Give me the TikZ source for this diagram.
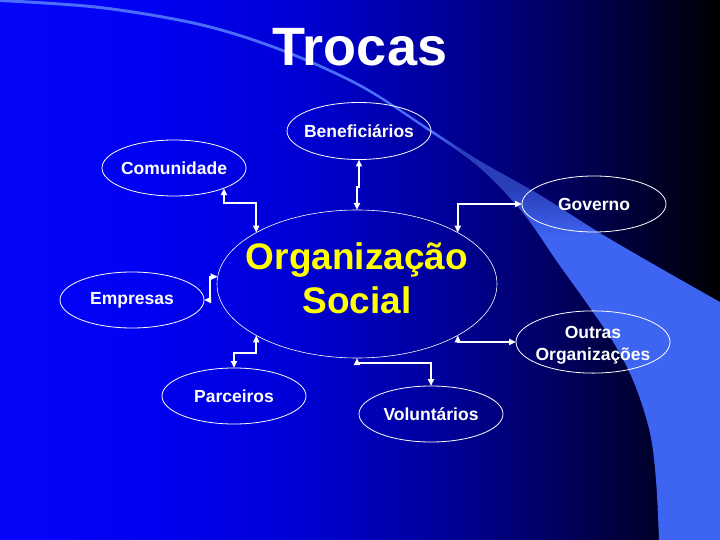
\documentclass[tikz,border=0pt]{standalone}
\usepackage{fontspec}
\setmainfont{Liberation Sans}
\usetikzlibrary{shapes.geometric,arrows.meta}
\definecolor{bgA}{RGB}{5,5,250}
\definecolor{bgB}{RGB}{0,0,242}
\definecolor{bgC}{RGB}{0,0,212}
\definecolor{bgD}{RGB}{0,0,150}
\definecolor{bgE}{RGB}{0,0,95}
\definecolor{bgF}{RGB}{0,0,45}
\definecolor{bgG}{RGB}{0,0,0}
\definecolor{bandC}{RGB}{62,100,242}
\definecolor{bandD}{RGB}{42,62,185}
\definecolor{lineC}{RGB}{75,110,250}
\definecolor{orgyellow}{RGB}{255,255,0}
\pgfdeclarehorizontalshading{bgshade}{100bp}{color(0bp)=(bgA); color(25bp)=(bgA); color(35.4bp)=(bgB); color(45.8bp)=(bgC); color(56.25bp)=(bgD); color(63.9bp)=(bgE); color(70.1bp)=(bgF); color(75bp)=(bgG); color(100bp)=(bgG)}
\pgfdeclareverticalshading{bandshade}{100bp}{color(0bp)=(bandC); color(53bp)=(bandC); color(57.5bp)=(bandD); color(61bp)=(bandD); color(62.8bp)=(lineC); color(100bp)=(lineC)}
\newcommand{\zwbox}[1]{\makebox[0pt]{#1}}
\tikzset{
  ell/.style={ellipse, draw=white, line width=0.8pt, minimum width=144pt, minimum height=56pt,
    inner sep=0pt, outer sep=0pt, text=white, font=\fontsize{17.5}{22}\selectfont\bfseries, align=center},
  orgell/.style={ellipse, draw=white, line width=0.6pt, minimum width=280pt, minimum height=148pt,
    inner sep=0pt, outer sep=0pt, text=orgyellow, font=\fontsize{37}{44}\selectfont\bfseries, align=center},
  titlefont/.style={inner sep=0pt, text=white, font=\fontsize{54}{60}\selectfont\bfseries},
  conn/.style={draw=white, line width=2pt, >={Triangle[length=7pt,width=6pt]}, <->}
}
\begin{document}
\begin{tikzpicture}[x=1pt,y=-1pt]
\useasboundingbox (0,0) rectangle (720,540);
\shade[shading=bgshade] (0,0) rectangle (720,540);
\shade[shading=bandshade] plot[smooth,tension=0.55] coordinates {(0,2) (100,9) (200,26) (280,51) (360,87) (430,132) (480,168) (523,213) (558,263) (588,305) (615,345) (635,385) (650,433) (656,480) (659,540)} -- (720,540) -- (720,302) -- plot[smooth,tension=0.55] coordinates {(720,302) (660,268) (600,233) (540,195) (480,161) (430,129) (360,84) (280,48) (200,23) (100,6) (0,-1)} -- cycle;

\node[titlefont] (title) at (360,47) {Trocas};

\node[orgell] (org) at (357,284) {\rule{0pt}{36pt}\zwbox{Organização}\\\rule[-22pt]{0pt}{22pt}\zwbox{Social}};
\node[ell, minimum height=57pt] (ben) at (359,131) {\zwbox{Beneficiários}};
\node[ell] (com) at (174,168) {\zwbox{Comunidade}};
\node[ell] (gov) at (594,204) {\zwbox{Governo}};
\node[ell] (emp) at (132,300) {\zwbox{Empresas}};
\node[ell, minimum width=154pt] (out) at (593,342) {\rule{0pt}{18pt}\zwbox{Outras}\\\rule[-4pt]{0pt}{4pt}\zwbox{Organizações}};
\node[ell] (par) at (234,396) {\zwbox{Parceiros}};
\node[ell] (vol) at (431,414) {\zwbox{Voluntários}};

\draw[conn] (com.-22) -- (com.-22 |- 0,203) -| (org.153);
\draw[conn] (ben.south) -- (ben.south |- 0,187) -- (org.north |- 0,187) -- (org.north);
\draw[conn] (gov.west) -| (org.27);
\draw[conn] (emp.east) -- ++(6,0) |- (org.177);
\draw[conn] (org.-153) -- (org.-153 |- 0,353) -| (par.north);
\draw[conn] (org.south) -- (org.south |- 0,363) -| (vol.north);
\draw[conn] (org.-27) |- (out.west);
\end{tikzpicture}
\end{document}
